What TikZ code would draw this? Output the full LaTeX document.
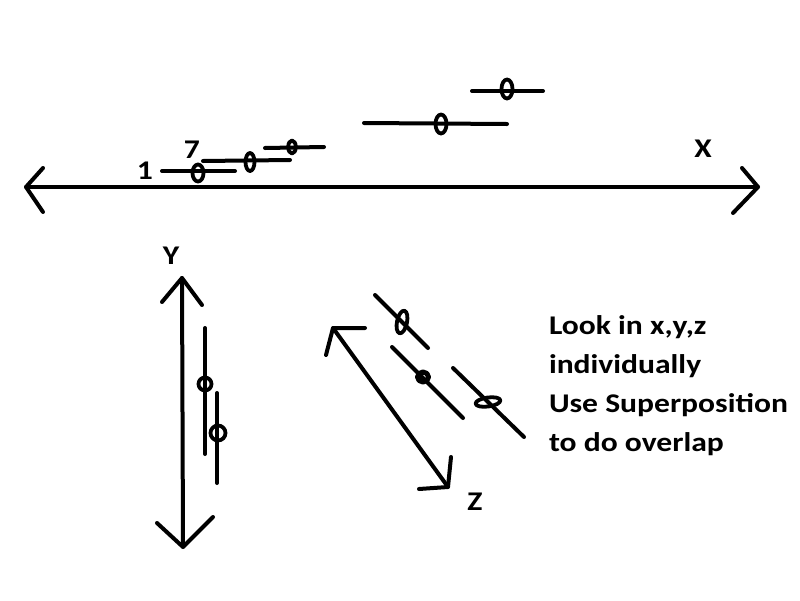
\documentclass[tikz,border=0pt]{standalone}
\usepackage{fontspec}
\setmainfont{Carlito}[FakeStretch=1.17]
\begin{document}
\begin{tikzpicture}[x=1pt,y=-1pt,line width=4pt,line cap=round,line join=round]
            \tikzstyle{every node}+=[inner sep=0pt,font=\fontsize{27}{30}\selectfont\bfseries]
            \tikzstyle{mark ring}=[line width=3.8pt]
            \useasboundingbox (0,0) rectangle (800,600);
            % x axis
            \coordinate (xleft) at (26,187);
            \coordinate (xright) at (758,187);
            \draw [black] (xleft) -- (xright);
            \draw [black] (43,168) -- (xleft) -- (43,212);
            \draw [black] (742,168) -- (xright) -- (733,213);
            \node (xlabel) at (703,149) {X};
            \node (one) at (145,171) {1};
            \node (seven) at (192,150) {7};
            % readings along x
            \draw [black] (162,171) -- (235,171);
            \draw [mark ring] (198,173) ellipse (5.5 and 8.5);
            \draw [black] (203,161) -- (290,160);
            \draw [mark ring] (250,162) ellipse (4.5 and 9);
            \draw [black] (265,148) -- (324,147);
            \draw [mark ring] (292,147) ellipse (3.8 and 6.5);
            \draw [black] (472,91) -- (543,91);
            \draw [mark ring] (507,89) ellipse (5.5 and 9.5);
            \draw [black] (364,123) -- (507,124);
            \draw [mark ring] (441,124) ellipse (5.5 and 9.5);
            % y axis
            \coordinate (ytop) at (182,278);
            \coordinate (ybottom) at (183,547);
            \draw [black] (ytop) -- (ybottom);
            \draw [black] (162,302) -- (ytop) -- (202,305);
            \draw [black] (157,523) -- (ybottom) -- (213,517);
            \node (ylabel) at (171,256) {Y};
            % readings along y
            \draw [black] (205,328) -- (205,454);
            \draw [mark ring] (205,384) circle (6.5);
            \draw [black] (217,393) -- (217,483);
            \draw [mark ring] (218,433) circle (7.5);
            % z axis
            \coordinate (ztop) at (333,328);
            \coordinate (zbottom) at (448,487);
            \draw [black] (ztop) -- (zbottom);
            \draw [black] (365,328) -- (ztop) -- (326,355);
            \draw [black] (451,457) -- (zbottom) -- (419,489);
            \node (zlabel) at (475,502) {Z};
            % readings along z
            \draw [black] (375,295) -- (428,348);
            \draw [mark ring,rotate around={-12:(402,322)}] (402,322) ellipse (5 and 11.5);
            \draw [black] (392,347) -- (463,418);
            \draw [mark ring,line width=5pt] (423,377) ellipse (5.5 and 5);
            \draw [black] (453,368) -- (524,437);
            \draw [mark ring,rotate around={8:(488,402)}] (488,402) ellipse (12.5 and 4.5);
            % note
            \node (note) [anchor=north west,align=left,font=\fontsize{27}{38.8}\selectfont\bfseries] at (547,314)
              {Look in x,y,z\\individually\\Use Superposition\\to do overlap};
\end{tikzpicture}
\end{document}
